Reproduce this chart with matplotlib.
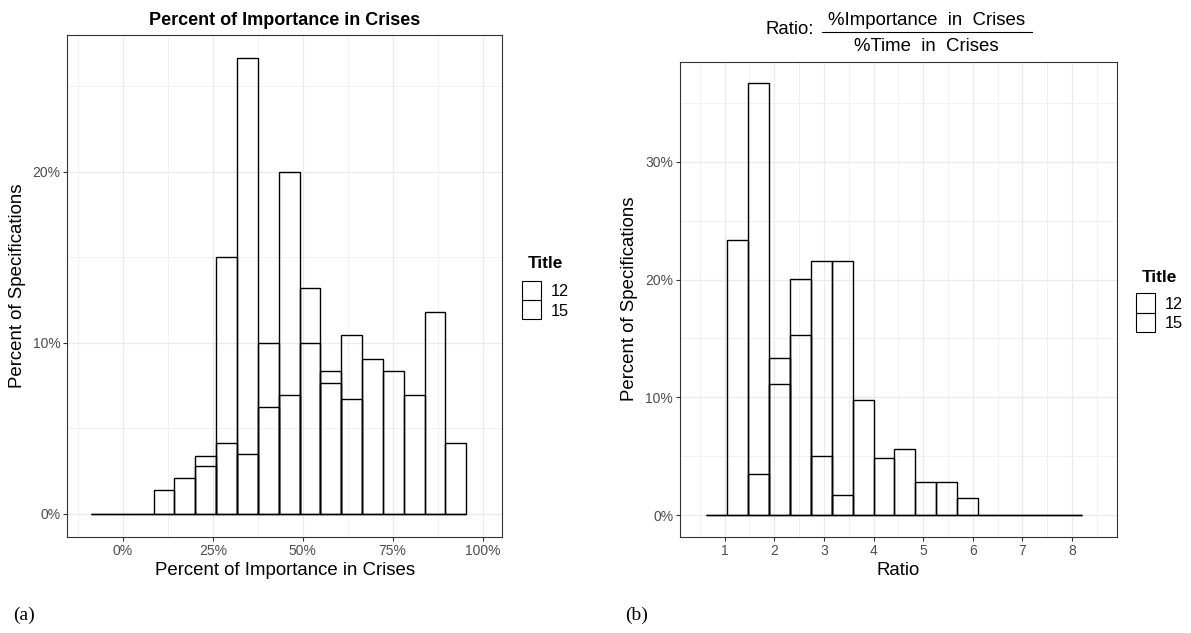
import matplotlib
matplotlib.use("Agg")
import matplotlib.pyplot as plt
from matplotlib.patches import Rectangle
from matplotlib.lines import Line2D

plt.rcParams['font.family'] = ['Liberation Sans', 'DejaVu Sans']

# left histogram: percent of importance in crises (bin centres, % of specifications)
imp_centers = [-0.060, -0.002, 0.056, 0.114, 0.172, 0.230, 0.288, 0.346, 0.404,
               0.462, 0.520, 0.578, 0.636, 0.694, 0.752, 0.810, 0.868, 0.926]
imp_width = 0.058
imp_12 = [0, 0, 0, 0, 0, 3.36, 15.0, 26.65, 10.0, 19.98, 13.2, 7.67, 6.7,
          0, 0, 0, 0, 0]
imp_15 = [0, 0, 0, 1.42, 2.12, 2.82, 4.17, 3.49, 6.25, 6.95, 10.0, 8.35, 10.44,
          9.03, 8.35, 6.95, 11.82, 4.17]

# right histogram: ratio %importance / %time
ratio_centers = [0.843, 1.264, 1.685, 2.106, 2.527, 2.948, 3.369, 3.790, 4.211,
                 4.632, 5.053, 5.474, 5.895, 6.316, 6.737, 7.158, 7.579, 8.000]
ratio_width = 0.421
ratio_12 = [0, 0, 36.7, 13.34, 20.03, 5.03, 21.58, 0, 0, 0, 0, 0, 0,
            0, 0, 0, 0, 0]
ratio_15 = [0, 23.36, 3.5, 11.1, 15.31, 21.58, 1.69, 9.78, 4.86, 5.57, 2.8, 2.8,
            1.41, 0, 0, 0, 0, 0]

groups = ['12', '15']

W, H = 1191, 633
fig = plt.figure(figsize=(W / 100, H / 100), dpi=100)


def px_box(x0, y0, x1, y1):
    return [x0 / W, 1 - y1 / H, (x1 - x0) / W, (y1 - y0) / H]


def style_ax(ax):
    ax.set_facecolor('white')
    for s in ax.spines.values():
        s.set_color('#333333')
        s.set_linewidth(0.8)
    ax.grid(which='major', color='#EBEBEB', lw=1.0)
    ax.grid(which='minor', color='#EBEBEB', lw=0.5)
    ax.set_axisbelow(True)
    ax.tick_params(which='major', length=2.9, width=0.8, color='#333333',
                   labelcolor='#4D4D4D', labelsize=10, pad=2)
    ax.tick_params(which='minor', length=0)


def hist_pair(ax, centers, width, a, b):
    ax.bar(centers, a, width=width, facecolor='none', edgecolor='black', lw=1.0)
    ax.bar(centers, b, width=width, facecolor='none', edgecolor='black', lw=1.0)


# legend drawn by hand, positions in pixels (key left, title baseline, key top)
def add_legend(xk, yt, ykey, xt):
    fig.text(xt / W, 1 - yt / H, 'Title', fontsize=12.4, fontweight='bold',
             va='baseline')
    k = 19.3
    for i, g in enumerate(groups):
        top = ykey + i * k
        fig.add_artist(Rectangle((xk / W, 1 - (top + k) / H), 19 / W, k / H,
                                 facecolor='none', edgecolor='black', lw=0.8,
                                 transform=fig.transFigure))
        fig.text((xk + 29) / W, 1 - (top + k / 2) / H, g, fontsize=11.7,
                 va='center_baseline')


# (a)
ax1 = fig.add_axes(px_box(67.3, 35, 502.3, 536.7))
style_ax(ax1)
hist_pair(ax1, imp_centers, imp_width, imp_12, imp_15)
ax1.set_xlim(-0.155, 1.055)
ax1.set_ylim(-1.33, 27.98)
ax1.set_xticks([0, 0.25, 0.5, 0.75, 1.0])
ax1.set_xticklabels(['0%', '25%', '50%', '75%', '100%'])
ax1.set_xticks([-0.125, 0.125, 0.375, 0.625, 0.875], minor=True)
ax1.set_yticks([0, 10, 20])
ax1.set_yticklabels(['0%', '10%', '20%'])
ax1.set_yticks([5, 15, 25], minor=True)
ax1.set_xlabel('Percent of Importance in Crises', fontsize=13.4, labelpad=3)
ax1.set_ylabel('Percent of Specifications', fontsize=13.4, labelpad=5)
ax1.set_title('Percent of Importance in Crises', fontsize=13, fontweight='bold', pad=7)
add_legend(521.7, 268, 280.7, 527.5)

# (b)
ax2 = fig.add_axes(px_box(680, 61.7, 1116.7, 536.7))
style_ax(ax2)
hist_pair(ax2, ratio_centers, ratio_width, ratio_12, ratio_15)
ax2.set_xlim(0.1, 8.9)
ax2.set_ylim(-1.835, 38.5)
ax2.set_xticks(range(1, 9))
ax2.set_xticks([0.5 + i for i in range(9)], minor=True)
ax2.set_yticks([0, 10, 20, 30])
ax2.set_yticklabels(['0%', '10%', '20%', '30%'])
ax2.set_yticks([5, 15, 25, 35], minor=True)
ax2.set_xlabel('Ratio', fontsize=13.4, labelpad=3)
ax2.set_ylabel('Percent of Specifications', fontsize=13.4, labelpad=5)
add_legend(1136, 282, 293.3, 1141.5)

# fraction title for (b)
fig.text(814 / W, 1 - 30 / H, 'Ratio:', fontsize=13.4, ha='right', va='center')
fig.text(926.7 / W, 1 - 25 / H, '%Importance  in  Crises', fontsize=13.4,
         ha='center', va='baseline')
fig.text(926.7 / W, 1 - 51 / H, '%Time  in  Crises', fontsize=13.4,
         ha='center', va='baseline')
fig.add_artist(Line2D([821.7 / W, 1031.7 / W], [1 - 31.5 / H, 1 - 31.5 / H],
                      color='black', lw=0.8))

fig.text(13 / W, 1 - 620 / H, '(a)', fontsize=14, family='Liberation Serif')
fig.text(625 / W, 1 - 620 / H, '(b)', fontsize=14, family='Liberation Serif')

fig.savefig('out.png', dpi=100)
